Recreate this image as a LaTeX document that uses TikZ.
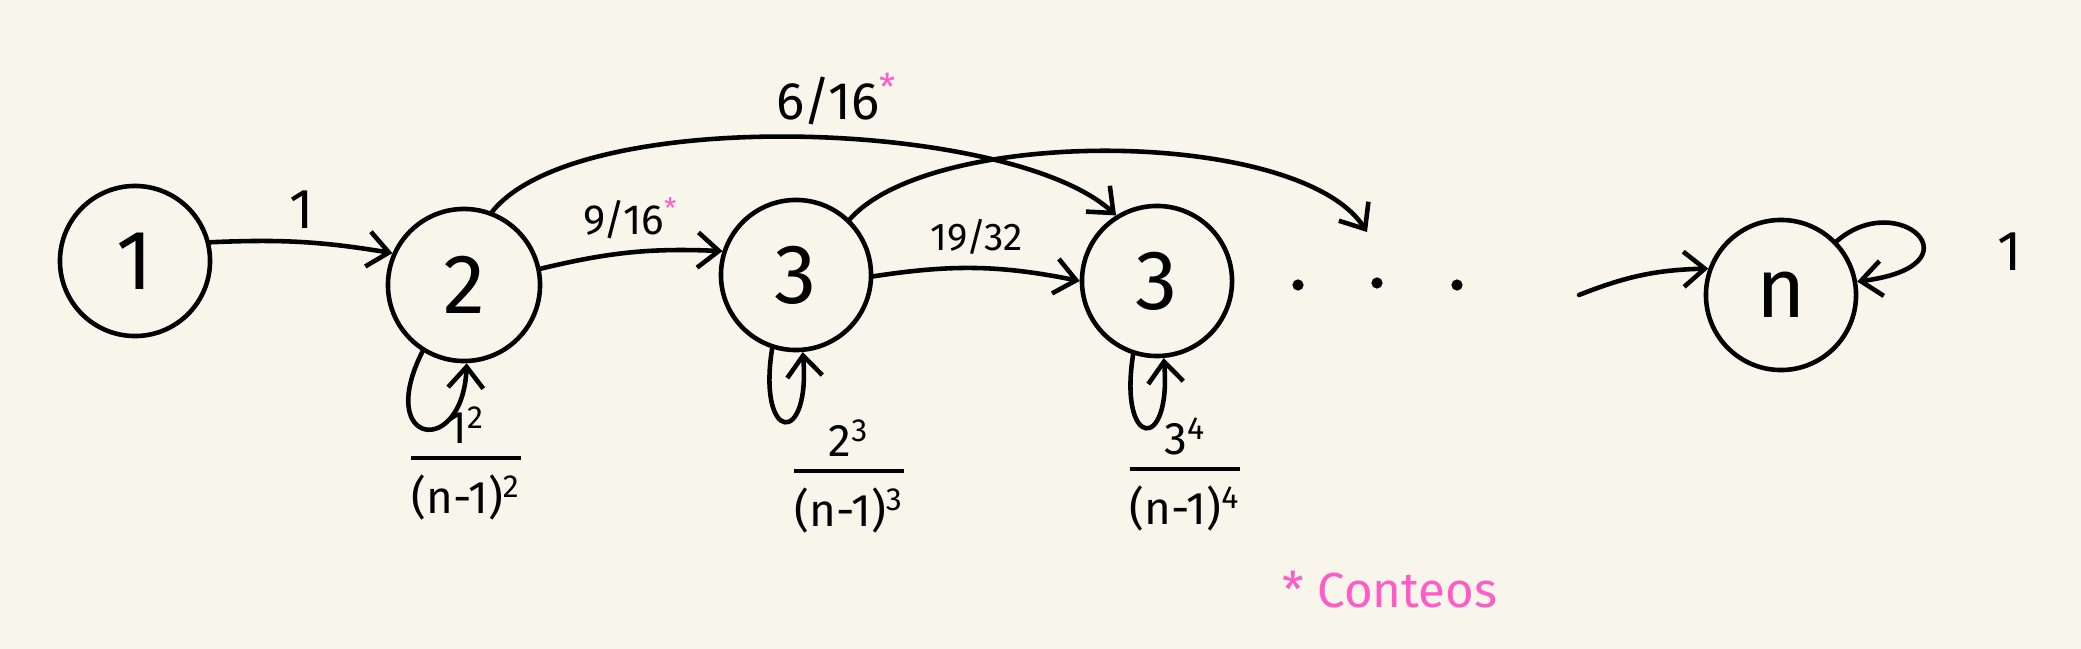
\documentclass[tikz,border=0pt]{standalone}
\usepackage{fontspec}
\setmainfont{Fira Sans}
\usetikzlibrary{arrows.meta}
\definecolor{paper}{HTML}{F8F6EA}
\definecolor{marker}{HTML}{FF5CC8}
\setlength{\arrayrulewidth}{1.2pt}
\newcommand{\countfrac}[2]{\begin{tabular}{@{}c@{}}#1\\[-1pt]\hline\rule{0pt}{15pt}#2\end{tabular}}
\tikzset 
{ 
    statenode/.style = {circle, draw=black, line width=1.3pt, minimum size=1.5cm, inner sep=0pt, font=\fontsize{24}{28}\selectfont},
    edgelabel/.style = {font=\fontsize{12}{14}\selectfont},
    looplabel/.style = {font=\fontsize{13}{15}\selectfont, align=center}
}
\begin{document}
\begin{tikzpicture}[x=0.01cm,y=-0.01cm,->,>={Straight Barb[length=6pt,width=10pt]},line width=1.3pt,line cap=round] 
\fill[paper] (0,0) rectangle (2081,649);
\useasboundingbox (0,0) rectangle (2081,649);
% states
\node [statenode] (n1) at (135,261) {1};
\node [statenode, minimum size=1.52cm] (n2) at (464,285) {2};
\node [statenode] (n3) at (796,275) {3};
\node [statenode] (n4) at (1157,281) {3};
\node [statenode] (nn) at (1781,295) {n};
\foreach \x/\y in {1298/285, 1377/283, 1457/285} \fill (\x,\y) circle[radius=1.6pt];
% forward steps
\draw (n1.14) to[bend left=6] node[above, font=\fontsize{16}{18}\selectfont] {1} (n2.156);
\draw (n2.12) to[bend left=8] node[above, edgelabel] {9/16\textsuperscript{\textcolor{marker}{*}}} (n3.162);
\draw (n3.-1) to[bend left=10] node[above, edgelabel, font=\fontsize{11}{13}\selectfont] {19/32} (n4.180);
\draw (n2.69) .. controls +(86,-108) and +(-104,-96) .. node[pos=0.55, above, font=\fontsize{15}{17}\selectfont] {6/16\textsuperscript{\textcolor{marker}{*}}} (n4.122);
\coordinate (gapin) at (1367,232);
\coordinate (gapout) at (1579,295);
\draw (n3.46) .. controls +(83,-94) and +(-67,-104) .. (gapin);
\draw (gapout) to[bend left=10] (nn.160);
% loops
\draw (n2.238) .. controls +(-48,95) and +(-4,95) .. (n2.272);
\draw (n3.252) .. controls +(-15,95) and +(8,95) .. (n3.275);
\draw (n4.252) .. controls +(-15,95) and +(8,95) .. (n4.275);
\draw (nn.44) .. controls +(62,-54) and +(126,-16) .. (nn.10);
\node [font=\fontsize{16}{18}\selectfont] (loopn) at (2010,252) {1};
\node [looplabel] (count2) at (466,468) {\countfrac{1\textsuperscript{2}}{(n-1)\textsuperscript{2}}};
\node [looplabel] (count3) at (849,481) {\countfrac{2\textsuperscript{3}}{(n-1)\textsuperscript{3}}};
\node [looplabel] (count4) at (1185,479) {\countfrac{3\textsuperscript{4}}{(n-1)\textsuperscript{4}}};
\node [text=marker, font=\fontsize{14}{16}\selectfont] (legend) at (1390,590) {* Conteos};
\end{tikzpicture}
\end{document}
